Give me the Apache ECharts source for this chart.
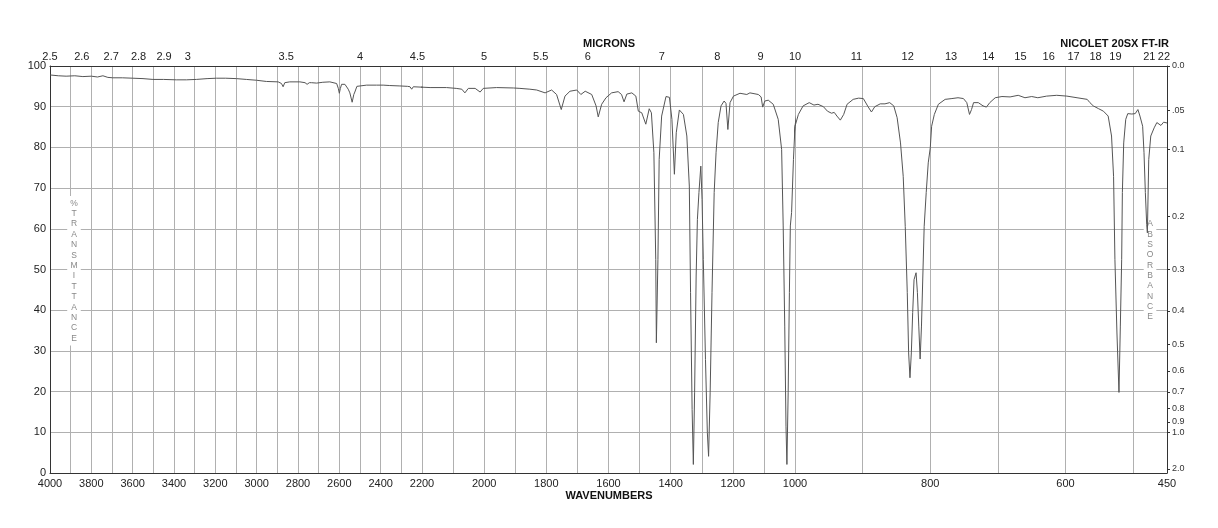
<!DOCTYPE html>
<html><head><meta charset="utf-8">
<script src="https://cdn.jsdelivr.net/npm/echarts@6/dist/echarts.min.js"></script>
<style>html,body{margin:0;padding:0;background:#fff}#c{width:1218px;height:528px}</style>
</head><body><div id="c"></div>
<script>
const wavenumbers = [4000,3960,3922,3880,3841,3800,3770,3744,3720,3696,3650,3599,3550,3502,3450,3389,3340,3292,3240,3195,3150,3098,3050,3001,2953,2896,2880,2872,2864,2840,2791,2766,2756,2745,2735,2710,2680,2646,2613,2605,2600,2595,2589,2573,2557,2549,2538,2530,2525,2515,2509,2468,2420,2388,2356,2307,2270,2258,2250,2242,2200,2174,2121,2090,2072,2062,2051,2029,2013,2003,1960,1906,1885,1853,1831,1804,1783,1767,1752,1740,1724,1702,1689,1675,1654,1640,1633,1622,1608,1590,1569,1558,1550,1541,1525,1512,1504,1493,1480,1469,1462,1454,1448,1446,1441,1437,1429,1415,1404,1396,1388,1382,1372,1359,1348,1340,1336,1331,1327,1323,1318,1314,1309,1303,1299,1295,1288,1282,1278,1273,1267,1260,1254,1247,1238,1228,1222,1216,1209,1198,1177,1155,1145,1118,1109,1104,1097,1086,1070,1054,1043,1038,1033,1029,1026,1022,1018,1015,1011,1005,1000,995,988,979,972,966,958,952,946,942,938,933,928,923,914,906,899,892,887,882,874,867,860,854,849,844,840,837,834,832,830,828,826,824,821,819,817,815,813,811,809,806,803,800,798,794,788,778,768,759,751,746,742,739,736,729,722,717,712,704,694,682,670,660,650,641,628,613,598,583,568,564,559,551,544,537,532,529,527,524,521,519,517,516,514,511,508,502,497,493,490,486,484,482,480,479,477,474,469,465,463,459,455,450];
const transmittance = [97.8,97.6,97.5,97.6,97.4,97.5,97.3,97.6,97.2,97.1,97.1,97.0,96.9,96.7,96.7,96.6,96.6,96.7,96.9,97.0,97.0,96.9,96.7,96.5,96.2,96.1,95.7,94.9,95.9,96.1,96.1,95.9,95.5,95.9,95.9,95.8,96.0,96.1,95.7,94.5,93.3,94.5,95.5,95.5,94.3,93.4,91.1,93.0,93.6,95.0,95.3,95.3,95.3,95.3,95.2,95.1,95.0,94.9,94.3,94.9,94.8,94.7,94.7,94.5,94.3,93.4,94.5,94.5,93.6,94.5,94.7,94.6,94.5,94.3,94.1,93.4,94.1,93.0,89.3,92.6,93.8,94.1,93.0,93.8,93.0,90.2,87.5,90.6,92.2,93.4,93.7,93.0,91.2,93.1,93.4,92.6,88.9,88.5,85.7,89.5,88.5,78.7,52.5,32.0,52.5,77.0,87.7,92.5,92.3,86.9,73.4,83.6,89.2,88.1,82.8,70.5,44.3,15.6,2.1,19.7,48.4,62.3,68.9,75.4,67.2,52.5,27.9,9.9,4.1,19.7,44.3,68.9,78.7,86.1,90.2,91.4,90.8,84.4,91.0,92.6,93.3,93.0,93.4,93.0,92.4,89.9,91.4,91.6,90.6,86.9,79.5,60.7,36.1,11.5,2.1,19.7,44.3,60.7,64.0,77.0,85.2,88.1,90.2,91.0,90.4,90.6,90.0,88.9,88.4,88.6,87.7,86.7,88.1,90.6,91.8,92.1,92.0,90.0,88.7,90.0,90.7,90.7,91.0,90.2,87.3,81.1,72.9,60.6,44.3,29.5,23.4,29.5,39.4,47.5,49.2,44.3,36.1,28.0,36.1,48.4,60.6,68.9,76.2,79.9,85.2,88.1,90.6,91.8,92.0,92.2,92.0,91.0,88.1,89.3,91.0,91.0,90.2,89.9,91.0,92.2,92.5,92.4,92.8,92.2,92.5,92.2,92.6,92.8,92.6,92.2,91.8,91.0,90.2,89.5,88.9,87.7,82.8,72.9,52.5,34.4,19.8,36.1,52.5,68.9,81.1,86.9,88.3,88.2,88.3,89.3,87.7,85.2,78.7,68.9,61,59,77,82.8,84.8,86.1,86.5,85.4,86.2,86.0];

const micronLabelsA = [2.5,2.6,2.7,2.8,2.9,3,3.5,4,4.5];
const micronLabelsB = [5,5.5,6,7,8,9,10];
const micronLabelsC = [11,12,13,14,15,16,17,18,19,21,22];
const wnLabelsA = [4000,3800,3600,3400,3200,3000,2800,2600,2400];
const wnLabelsB = [2200,2000,1800,1600,1400,1200,1000];
const wnLabelsC = [800,600,450];
const wnGridC = [1000,900,800,700,600,500,450];
const absValues = [0,0.05,0.1,0.2,0.3,0.4,0.5,0.6,0.7,0.8,0.9,1.0,2.0];
const absLabels = ['0.0','.05','0.1','0.2','0.3','0.4','0.5','0.6','0.7','0.8','0.9','1.0','2.0'];

const FONT = 'Liberation Sans, Arial, Helvetica, sans-serif';
const panels = [
  {min:2200, max:4000, left:50, width:372, microns:micronLabelsA, wn:wnLabelsA},
  {min:1000, max:2200, left:422, width:373, microns:micronLabelsB, wn:wnLabelsB},
  {min:450, max:1000, left:795, width:372, microns:micronLabelsC, wn:wnLabelsC, gridVals:wnGridC}
];
const TOP = 66, HEIGHT = 407;
const gridColor = '#b0b0b0', axisColor = '#333';
const pts = wavenumbers.map((w,i)=>[w, transmittance[i]]);

const grids = [], xAxes = [], yAxes = [], series = [];
panels.forEach((p,i)=>{
  grids.push({left:p.left, top:TOP, width:p.width, height:HEIGHT});
  const bottom = {
    type:'value', gridIndex:i, min:p.min, max:p.max, inverse:true, position:'bottom',
    axisLine:{show:true, onZero:false, lineStyle:{color:axisColor, width:1}},
    axisTick:{show:false},
    axisLabel:{customValues:p.wn, fontFamily:FONT, fontSize:11, color:'#222', margin:5,
      formatter:v=>String(v)},
    splitLine:{show:true, lineStyle:{color:gridColor, width:1}}
  };
  if (p.gridVals) bottom.axisTick.customValues = p.gridVals; else bottom.interval = 100;
  xAxes.push(bottom);
  xAxes.push({
    type:'value', gridIndex:i, min:p.min, max:p.max, inverse:true, position:'top',
    axisLine:{show:true, onZero:false, lineStyle:{color:axisColor, width:1}},
    axisTick:{show:false},
    splitLine:{show:false},
    axisLabel:{customValues:p.microns.map(m=>1e4/m), fontFamily:FONT, fontSize:11, color:'#222', margin:4,
      formatter:v=>String(+(1e4/v).toFixed(1))}
  });
  yAxes.push({
    type:'value', gridIndex:i, min:0, max:100, interval:10, position:'left',
    axisLine:{show:i===0, onZero:false, lineStyle:{color:axisColor, width:1}},
    axisTick:{show:false},
    axisLabel:{show:i===0, fontFamily:FONT, fontSize:11, color:'#222', margin:4},
    splitLine:{show:true, lineStyle:{color:gridColor, width:1}}
  });
  series.push({
    type:'line', xAxisIndex:2*i, yAxisIndex:i, data:pts, showSymbol:false, clip:true,
    lineStyle:{color:'#555', width:1}, z:3, animation:false
  });
});
const absT = absValues.map(a=>100*Math.pow(10,-a));
yAxes.push({
  type:'value', gridIndex:2, min:0, max:100, position:'right',
  axisLine:{show:true, onZero:false, lineStyle:{color:axisColor, width:1}},
  axisTick:{show:true, length:3, inside:false, customValues:absT, lineStyle:{color:axisColor}},
  axisLabel:{customValues:absT, fontFamily:FONT, fontSize:9, color:'#333', margin:5,
    formatter:v=>{const k=absT.findIndex(t=>Math.abs(t-v)<1e-6); return k>=0?absLabels[k]:'';}},
  splitLine:{show:false}
});

const vert = s => s.split('').join('\n');
const option = {
  animation:false,
  backgroundColor:'#fff',
  title:[
    {text:'MICRONS', left:609, textAlign:'center', top:38, padding:0,
     textStyle:{fontFamily:FONT, fontSize:11, fontWeight:'bold', color:'#111'}},
    {text:'NICOLET 20SX FT-IR', right:49, top:38, padding:0,
     textStyle:{fontFamily:FONT, fontSize:11, fontWeight:'bold', color:'#111'}},
    {text:'WAVENUMBERS', left:609, textAlign:'center', top:490, padding:0,
     textStyle:{fontFamily:FONT, fontSize:11, fontWeight:'bold', color:'#111'}},
    {text:vert('%TRANSMITTANCE'), left:71, textAlign:'center', top:196, padding:[2,3], z:1,
     backgroundColor:'#fff',
     textStyle:{fontFamily:FONT, fontSize:8.5, color:'#888', lineHeight:10.4, fontWeight:'normal'}},
    {text:vert('ABSORBANCE'), left:1147, textAlign:'center', top:217, padding:[2,3], z:1,
     backgroundColor:'#fff',
     textStyle:{fontFamily:FONT, fontSize:8.5, color:'#888', lineHeight:10.3, fontWeight:'normal'}}
  ],
  grid:grids, xAxis:xAxes, yAxis:yAxes, series:series
};
echarts.init(document.getElementById('c'), null, {renderer:'canvas'}).setOption(option);
</script></body></html>
